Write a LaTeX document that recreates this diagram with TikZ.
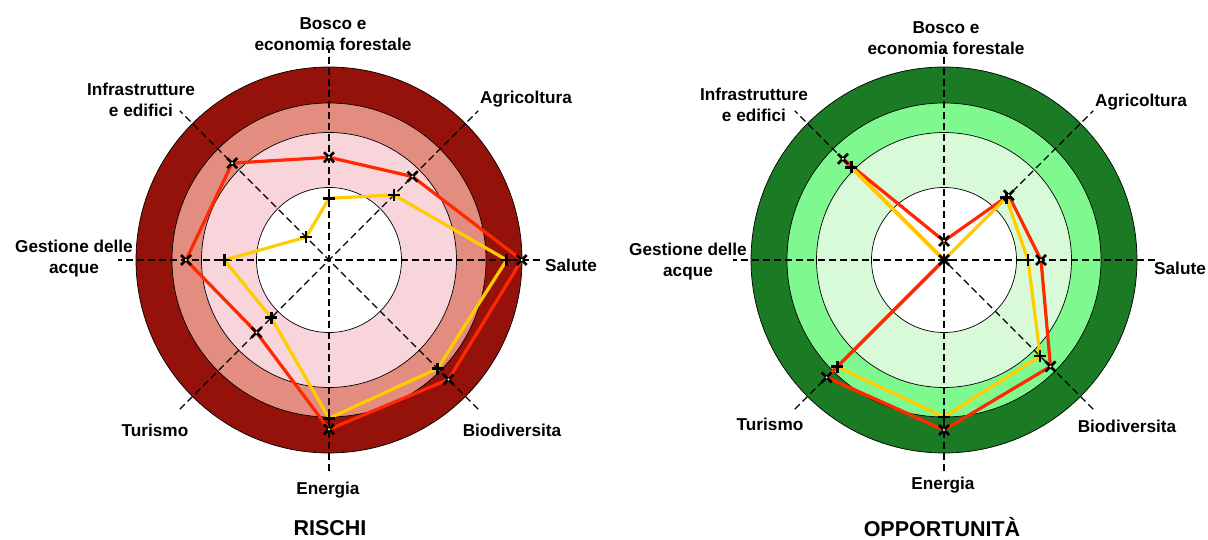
\documentclass[tikz,border=0pt]{standalone}
\usepackage{fontspec}
\setmainfont{Liberation Sans}
\usetikzlibrary{calc}
\definecolor{rdark}{RGB}{148,18,10}
\definecolor{rmid}{RGB}{227,140,128}
\definecolor{rlight}{RGB}{247,213,218}
\definecolor{gdark}{RGB}{27,123,36}
\definecolor{gmid}{RGB}{128,248,144}
\definecolor{glight}{RGB}{216,250,216}
\definecolor{serred}{RGB}{255,40,0}
\definecolor{seryel}{RGB}{255,204,0}
\begin{document}
\begin{tikzpicture}[x=1pt,y=-1pt,
  ring/.style={draw=black, line width=0.7pt},
  axisline/.style={draw=black, line width=1.2pt, dash pattern=on 7pt off 4pt},
  lbl/.style={font=\fontsize{17.2}{21}\selectfont\bfseries, align=center, inner sep=0pt},
  ttl/.style={font=\fontsize{21.5}{24}\selectfont\bfseries, inner sep=0pt},
  serA/.style={draw=serred, line width=3.2pt, line join=round},
  serB/.style={draw=seryel, line width=3.2pt, line join=round},
  redmk/.pic={\draw[black, line width=2.6pt] (-5,-5)--(5,5) (-5,5)--(5,-5);
              \fill[white] (0,0) circle[radius=1.1pt];},
  yelmk/.pic={\draw[black, line width=2.6pt] (-6,0)--(6,0) (0,-6)--(0,6);}]
\useasboundingbox (0,0) rectangle (1208,540);

% ---------- left chart: RISCHI ----------
\coordinate (LC) at (329,260);
\filldraw[ring, fill=rdark] (LC) circle[radius=193pt];
\filldraw[ring, fill=rmid] (LC) circle[radius=157pt];
\filldraw[ring, fill=rlight] (LC) circle[radius=127.5pt];
\filldraw[ring, fill=white] (LC) circle[radius=72.5pt];
\foreach \a in {0,45,90,135}
  \draw[axisline] ($(LC)+(\a:211)$) -- ($(LC)+(\a+180:211)$);

\foreach \a/\r [count=\i] in {-90/102.7,-45/118,0/192.7,45/169,90/169.3,135/102.5,180/143,225/137}
  \coordinate (LR\i) at ($(LC)+(\a:\r)$);
\foreach \a/\r [count=\i] in {-90/61.7,-45/92,0/177.7,45/153.5,90/158.3,135/81.7,180/104.7,225/32.3}
  \coordinate (LY\i) at ($(LC)+(\a:\r)$);
\draw[serA] (LR1)--(LR2)--(LR3)--(LR4)--(LR5)--(LR6)--(LR7)--(LR8)--cycle;
\draw[serB] (LY1)--(LY2)--(LY3)--(LY4)--(LY5)--(LY6)--(LY7)--(LY8)--cycle;
\foreach \i in {1,...,8} {\pic at (LR\i) {redmk}; \pic at (LY\i) {yelmk};}

\node[lbl] (Lbosco) at (333,34) {Bosco e\\economia forestale};
\node[lbl] (Linfra) at (141,100) {Infrastrutture\\e edifici};
\node[lbl] (Lagri) at (526,99) {Agricoltura};
\node[lbl] (Lgest) at (74,259) {Gestione delle\\acque};
\node[lbl] (Lsal) at (571,265) {Salute};
\node[lbl] (Ltur) at (155,430) {Turismo};
\node[lbl] (Lbio) at (512,430) {Biodiversita};
\node[lbl] (Lene) at (328,490) {Energia};
\node[ttl] (Ltitle) at (330,528) {RISCHI};

% ---------- right chart: OPPORTUNITA ----------
\coordinate (RC) at (944,260);
\filldraw[ring, fill=gdark] (RC) circle[radius=193pt];
\filldraw[ring, fill=gmid] (RC) circle[radius=157pt];
\filldraw[ring, fill=glight] (RC) circle[radius=127.5pt];
\filldraw[ring, fill=white] (RC) circle[radius=72.5pt];
\foreach \a in {0,45,90,135}
  \draw[axisline] ($(RC)+(\a:211)$) -- ($(RC)+(\a+180:211)$);

\foreach \a/\r [count=\i] in {-90/19,-45/91.5,0/97,45/150.6,90/170,135/166,180/0,225/143}
  \coordinate (RR\i) at ($(RC)+(\a:\r)$);
\foreach \a/\r [count=\i] in {-90/0,-45/88,0/84,45/136,90/157,135/151,180/0,225/131}
  \coordinate (RY\i) at ($(RC)+(\a:\r)$);
\draw[serA] (RR1)--(RR2)--(RR3)--(RR4)--(RR5)--(RR6)--(RR7)--(RR8)--cycle;
\draw[serB] (RY1)--(RY2)--(RY3)--(RY4)--(RY5)--(RY6)--(RY7)--(RY8)--cycle;
\draw[serA] (RR5)--(RR6)--(RR7);
\foreach \i in {1,...,8} {\pic at (RR\i) {redmk}; \pic at (RY\i) {yelmk};}

\node[lbl] (Rbosco) at (946,38) {Bosco e\\economia forestale};
\node[lbl] (Rinfra) at (754,105) {Infrastrutture\\e edifici};
\node[lbl] (Ragri) at (1141,102) {Agricoltura};
\node[lbl] (Rgest) at (688,262) {Gestione delle\\acque};
\node[lbl] (Rsal) at (1180,268) {Salute};
\node[lbl] (Rtur) at (770,424) {Turismo};
\node[lbl] (Rbio) at (1127,426) {Biodiversita};
\node[lbl] (Rene) at (943,485) {Energia};
\node[ttl] (Rtitle) at (942,527) {OPPORTUNITÀ};
\end{tikzpicture}
\end{document}
